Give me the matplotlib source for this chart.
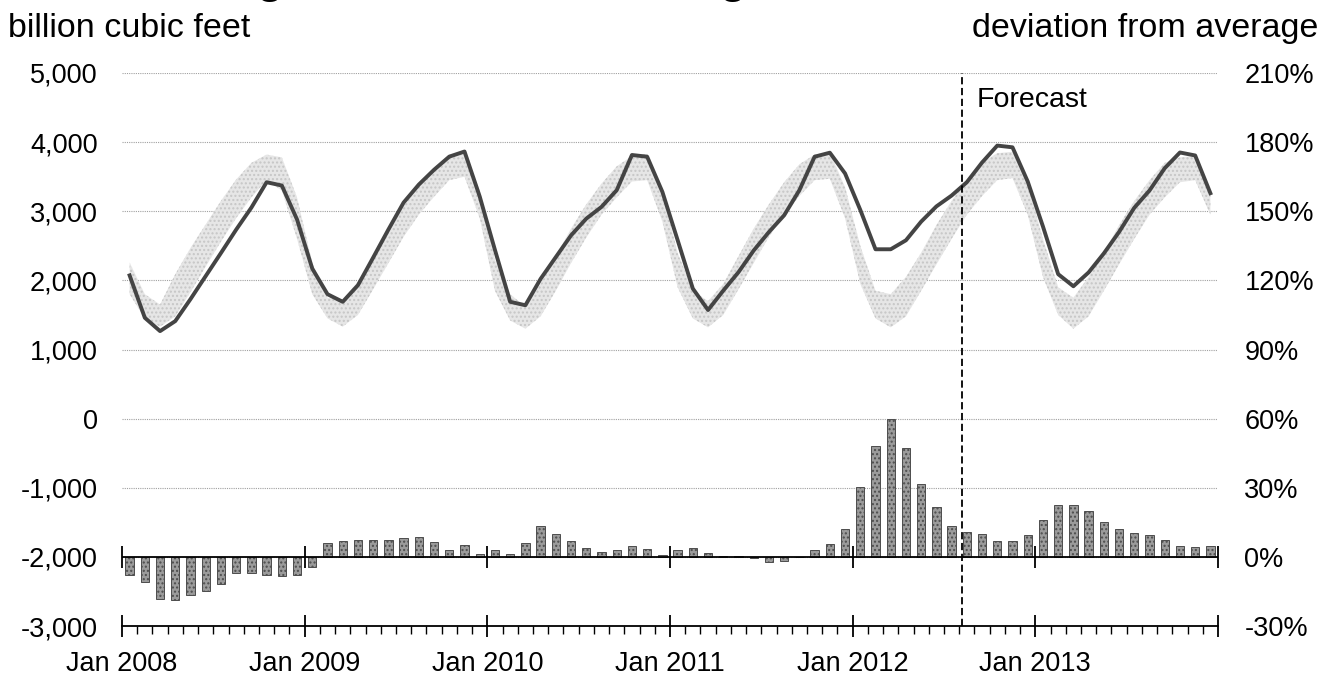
#!/usr/bin/env python3
"""Working gas in storage vs. 5-year range, with deviation-from-average bars."""
import matplotlib

matplotlib.use("Agg")
import matplotlib.pyplot as plt
import numpy as np
from matplotlib.ticker import FuncFormatter, MultipleLocator

plt.rcParams["font.family"] = ["Liberation Sans", "DejaVu Sans"]

# monthly values, Jan 2008 .. Dec 2013 (billion cubic feet)
storage = [
    2072, 1459, 1266, 1411, 1729, 2063, 2396, 2734, 3053, 3420, 3372, 2880,
    2170, 1800, 1690, 1930, 2330, 2735, 3126, 3386, 3600, 3790, 3864, 3213,
    2440, 1690, 1640, 2022, 2337, 2651, 2893, 3063, 3305, 3814, 3789, 3280,
    2583, 1881, 1571, 1852, 2119, 2433, 2700, 2942, 3305, 3789, 3847, 3547,
    3020, 2450, 2450, 2580, 2850, 3070, 3227, 3420, 3705, 3950, 3925, 3430,
    2780, 2090, 1915, 2115, 2390, 2700, 3050, 3300, 3623, 3850, 3807, 3261,
]
# historical range band (upper / lower edge)
band_hi = [
    2260, 1800, 1650, 2090, 2470, 2810, 3150, 3460, 3700, 3820, 3780, 3200,
    2250, 1750, 1720, 1980, 2330, 2720, 3080, 3380, 3620, 3820, 3860, 3300,
    2300, 1800, 1620, 1950, 2350, 2750, 3100, 3400, 3650, 3800, 3830, 3280,
    2400, 1850, 1700, 1950, 2350, 2750, 3100, 3420, 3680, 3820, 3850, 3350,
    2500, 1850, 1800, 2050, 2400, 2800, 3150, 3450, 3700, 3840, 3860, 3400,
    2600, 1900, 1750, 2050, 2400, 2800, 3150, 3450, 3700, 3780, 3800, 3300,
]
band_lo = [
    1800, 1450, 1330, 1480, 1830, 2200, 2560, 2900, 3200, 3450, 3300, 2600,
    1800, 1450, 1330, 1500, 1870, 2250, 2630, 2950, 3210, 3450, 3500, 2900,
    1850, 1420, 1300, 1480, 1850, 2250, 2620, 2950, 3200, 3430, 3450, 2850,
    1900, 1450, 1320, 1500, 1870, 2250, 2630, 2950, 3220, 3450, 3470, 2900,
    1950, 1450, 1320, 1480, 1850, 2230, 2600, 2950, 3220, 3450, 3480, 2950,
    2050, 1500, 1300, 1480, 1850, 2230, 2600, 2950, 3200, 3420, 3450, 2950,
]
# deviation from average (%)
deviation = [
    -7.7, -11.0, -18.4, -18.8, -16.4, -14.8, -11.6, -6.8, -7.2, -7.7, -8.1, -7.7,
    -4.3, 5.9, 6.8, 7.2, 7.5, 7.5, 8.1, 8.7, 6.5, 2.9, 5.1, 1.4,
    2.9, 1.4, 6.2, 13.3, 9.9, 7.0, 3.9, 2.2, 2.9, 4.6, 3.5, 0.7,
    2.9, 3.8, 1.6, 0.5, 0.2, -0.7, -2.3, -1.9, 0.1, 3.2, 5.5, 12.0,
    30.2, 48.1, 59.7, 47.4, 31.5, 21.7, 13.5, 11.0, 9.9, 6.7, 6.8, 9.3,
    16.1, 22.6, 22.6, 19.7, 15.1, 12.2, 10.4, 9.4, 7.5, 4.6, 4.3, 4.8,
]
year_labels = ["Jan 2008", "Jan 2009", "Jan 2010", "Jan 2011", "Jan 2012", "Jan 2013", ""]
forecast_start = 55.15  # months after Jan 2008 (early Aug 2012)

x = np.arange(len(storage)) + 0.5
year_x = np.arange(0, len(storage) + 1, 12)

fig = plt.figure(figsize=(13.25, 6.75), dpi=100)
ax = fig.add_axes([122 / 1325, 49 / 675, 1096 / 1325, 553 / 675])
ax2 = ax.twinx()

ax.fill_between(x, band_lo, band_hi, facecolor="#e6e6e6", edgecolor="#c6c6c6",
                hatch="....", linewidth=0, zorder=2)
ax.plot(x, storage, color="#444444", lw=2.8, zorder=4, solid_joinstyle="round")
ax.axvline(forecast_start, color="black", lw=1.3, ls=(0, (4, 2)), zorder=5)
ax.text(forecast_start + 1.0, 4610, "Forecast", fontsize=20.5, va="center", ha="left")

ax2.bar(x, deviation, width=0.55, facecolor="#9b9b9b", edgecolor="#4d4d4d",
        linewidth=0.7, hatch="....", zorder=3)
ax2.axhline(0, color="black", lw=1.3, zorder=4)
ax2.plot(year_x, np.zeros(len(year_x)), ls="none", marker="|", ms=16, mew=1.3,
         color="black", zorder=4, clip_on=False)

ax.set_xlim(0, len(storage))
ax.set_ylim(-3000, 5000)
ax2.set_ylim(-30, 210)

ax.set_yticks(range(-3000, 5001, 1000))
ax.yaxis.set_major_formatter(FuncFormatter(lambda v, _: f"{int(v):,}"))
ax2.set_yticks(range(-30, 211, 30))
ax2.yaxis.set_major_formatter(FuncFormatter(lambda v, _: f"{int(v)}%"))
ax.yaxis.grid(True, color="#a0a0a0", lw=0.8, ls=(0, (1, 1)))
ax.set_axisbelow(True)

ax.set_xticks(year_x)
ax.set_xticklabels(year_labels)
ax.xaxis.set_minor_locator(MultipleLocator(1))
ax.tick_params(axis="x", which="major", direction="inout", length=16, width=1.3,
               labelsize=19.5, pad=10)
ax.tick_params(axis="x", which="minor", direction="out", length=6, width=1.0)
ax.tick_params(axis="y", length=0, labelsize=19.5, pad=17.5)
ax2.tick_params(axis="y", length=0, labelsize=19.5, pad=19)

for a in (ax, ax2):
    for side in ("left", "right", "top"):
        a.spines[side].set_visible(False)
ax2.spines["bottom"].set_visible(False)
ax.spines["bottom"].set_linewidth(1.3)

fig.text(8 / 1325, 1 - 37 / 675, "billion cubic feet", fontsize=24.5, va="baseline", ha="left")
fig.text(1318 / 1325, 1 - 37 / 675, "deviation from average", fontsize=24.5,
         va="baseline", ha="right")
# title sits mostly above the cropped top edge, only descenders show
fig.text(9.5 / 1325, 1 + 7 / 675, "U.S. Working Natural Gas in Storage", fontsize=31.8,
         weight="bold", va="baseline", ha="left")

fig.savefig("out.png", dpi=100)
